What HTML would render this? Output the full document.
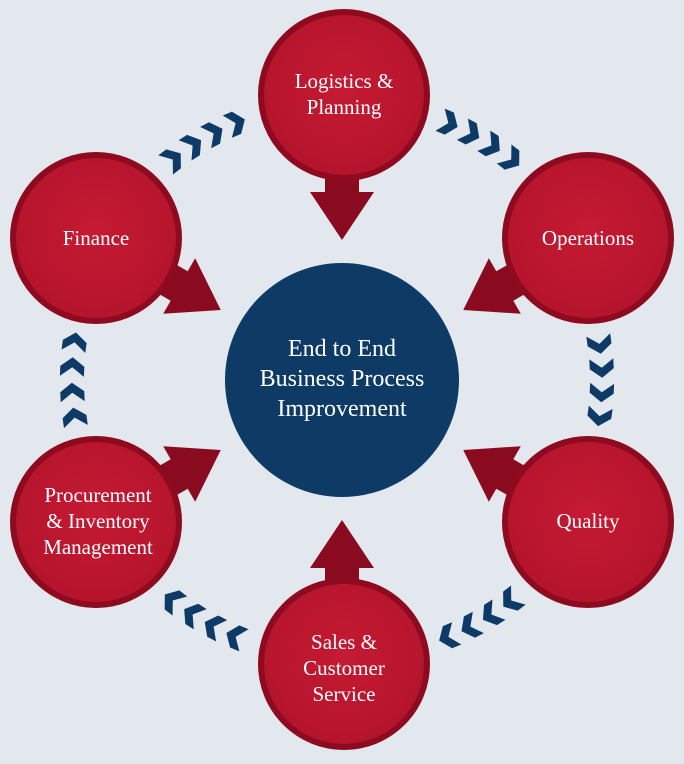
<!DOCTYPE html>
<html><head><style>
html,body{margin:0;padding:0;background:#e3e8ef;}
svg{display:block;}
text{font-family:"Liberation Serif",serif;fill:#fff;text-anchor:middle;}
</style></head><body>
<svg width="684" height="764" viewBox="0 0 684 764">
<defs>
<radialGradient id="rg" cx="50%" cy="45%" r="60%">
<stop offset="0" stop-color="#c51a33"/><stop offset="1" stop-color="#b3132c"/>
</radialGradient>
<path id="ch" d="M-9,-12 L1,-12 L10,0 L1,12 L-9,12 L0,0Z" fill="#0d3a66"/>
<path id="ar" d="M215,-17 L188,-17 L188,-32 L140,0 L188,32 L188,17 L215,17Z" fill="#8a0b1f"/>
</defs>
<rect width="684" height="764" fill="#e3e8ef"/>
<g transform="translate(342 380)">
<use href="#ar" transform="rotate(-90)"/>
<use href="#ar" transform="rotate(-30)"/>
<use href="#ar" transform="rotate(30)"/>
<use href="#ar" transform="rotate(90)"/>
<use href="#ar" transform="rotate(150)"/>
<use href="#ar" transform="rotate(-150)"/>
<g transform="rotate(-120)">
<use href="#ch" transform="rotate(-7.5) translate(278 0) rotate(90)"/>
<use href="#ch" transform="rotate(-2.5) translate(278 0) rotate(90)"/>
<use href="#ch" transform="rotate(2.5) translate(278 0) rotate(90)"/>
<use href="#ch" transform="rotate(7.5) translate(278 0) rotate(90)"/>
</g>
<g transform="rotate(-60)">
<use href="#ch" transform="rotate(-7.5) translate(278 0) rotate(90)"/>
<use href="#ch" transform="rotate(-2.5) translate(278 0) rotate(90)"/>
<use href="#ch" transform="rotate(2.5) translate(278 0) rotate(90)"/>
<use href="#ch" transform="rotate(7.5) translate(278 0) rotate(90)"/>
</g>
<g transform="rotate(0)">
<use href="#ch" transform="rotate(-8) translate(260 0) rotate(90)"/>
<use href="#ch" transform="rotate(-2.7) translate(260 0) rotate(90)"/>
<use href="#ch" transform="rotate(2.7) translate(260 0) rotate(90)"/>
<use href="#ch" transform="rotate(8) translate(260 0) rotate(90)"/>
</g>
<g transform="rotate(60)">
<use href="#ch" transform="rotate(-7.5) translate(278 0) rotate(90)"/>
<use href="#ch" transform="rotate(-2.5) translate(278 0) rotate(90)"/>
<use href="#ch" transform="rotate(2.5) translate(278 0) rotate(90)"/>
<use href="#ch" transform="rotate(7.5) translate(278 0) rotate(90)"/>
</g>
<g transform="rotate(120)">
<use href="#ch" transform="rotate(-7.5) translate(278 0) rotate(90)"/>
<use href="#ch" transform="rotate(-2.5) translate(278 0) rotate(90)"/>
<use href="#ch" transform="rotate(2.5) translate(278 0) rotate(90)"/>
<use href="#ch" transform="rotate(7.5) translate(278 0) rotate(90)"/>
</g>
<g transform="rotate(180)">
<use href="#ch" transform="rotate(-8) translate(270 0) rotate(90)"/>
<use href="#ch" transform="rotate(-2.7) translate(270 0) rotate(90)"/>
<use href="#ch" transform="rotate(2.7) translate(270 0) rotate(90)"/>
<use href="#ch" transform="rotate(8) translate(270 0) rotate(90)"/>
</g>
</g>
<g stroke="#8d0a1f" stroke-width="6" fill="url(#rg)">
<circle cx="344" cy="95" r="83"/>
<circle cx="588" cy="238" r="83"/>
<circle cx="588" cy="522" r="83"/>
<circle cx="344" cy="664" r="83"/>
<circle cx="96" cy="522" r="83"/>
<circle cx="96" cy="238" r="83"/>
</g>
<circle cx="342" cy="380" r="117" fill="#0d3b66"/>
<g font-size="21">
<text x="344" y="88">Logistics &amp;</text>
<text x="344" y="114">Planning</text>
<text x="96" y="245">Finance</text>
<text x="588" y="245">Operations</text>
<text x="588" y="528">Quality</text>
<text x="344" y="649">Sales &amp;</text>
<text x="344" y="675">Customer</text>
<text x="344" y="701">Service</text>
<text x="98" y="502">Procurement</text>
<text x="98" y="528">&amp; Inventory</text>
<text x="98" y="554">Management</text>
</g>
<g font-size="24">
<text x="342" y="356">End to End</text>
<text x="342" y="386">Business Process</text>
<text x="342" y="416">Improvement</text>
</g>
</svg>
</body></html>
